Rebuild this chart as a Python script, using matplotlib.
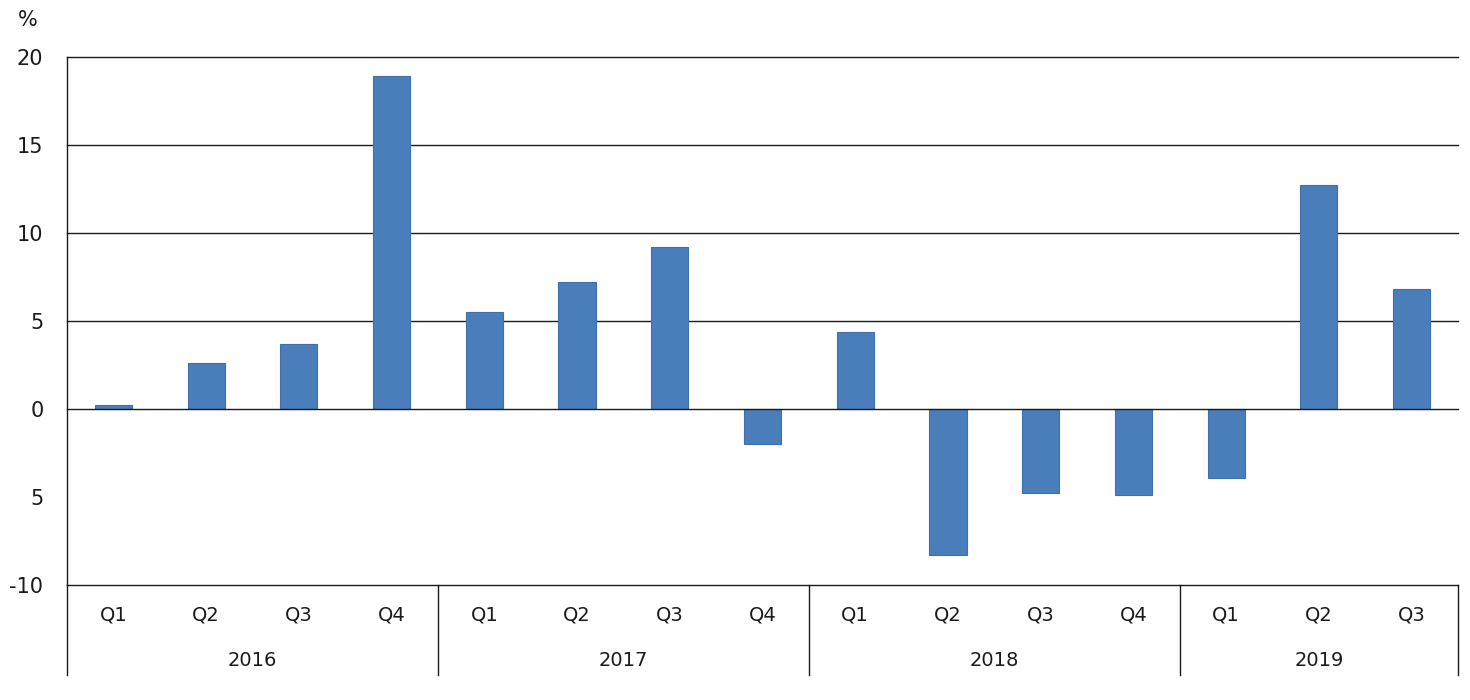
import matplotlib.pyplot as plt
import matplotlib.transforms as mtransforms

# data
years = ["2016", "2017", "2018", "2019"]
quarters_per_year = [4, 4, 4, 3]
quarter_labels = ["Q1", "Q2", "Q3", "Q4", "Q1", "Q2", "Q3", "Q4",
                  "Q1", "Q2", "Q3", "Q4", "Q1", "Q2", "Q3"]
values = [0.2, 2.6, 3.7, 18.9, 5.5, 7.2, 9.2, -2.0,
          4.4, -8.3, -4.8, -4.9, -3.9, 12.7, 6.8]
y_ticks = [-10, -5, 0, 5, 10, 15, 20]
y_tick_labels = ["-10", "5", "0", "5", "10", "15", "20"]

W, H = 1470, 700
fig = plt.figure(figsize=(W / 100, H / 100), dpi=100)
left, right, top, bottom = 67, 1458, 57, 585
ax = fig.add_axes([left / W, 1 - bottom / H, (right - left) / W, (bottom - top) / H])

n = len(values)
xs = [i + 0.5 for i in range(n)]
ax.bar(xs, values, width=0.4, color="#4a7ebb", edgecolor="#3f70aa", linewidth=0.8, zorder=3)

ax.set_xlim(0, n)
ax.set_ylim(-10, 20)

# horizontal lines
for y in [20, 15, 10, 5, 0, -10]:
    ax.axhline(y, color="#1a1a1a", lw=1.0, zorder=2 if y != 0 else 4, clip_on=False)

for s in ["top", "right", "bottom"]:
    ax.spines[s].set_visible(False)
ax.spines["left"].set_color("#1a1a1a")
ax.spines["left"].set_linewidth(1.0)

ax.set_yticks(y_ticks)
ax.set_yticklabels(y_tick_labels, fontsize=15, color="#1a1a1a")
ax.tick_params(axis="y", length=0, pad=17)
ax.set_xticks([])

# % label above the axis
fig.text(28 / W, 1 - 20 / H, "%", fontsize=15, ha="center", va="center", color="#1a1a1a")

# category axis below the plot
trans = mtransforms.blended_transform_factory(ax.transData, ax.transAxes)
box_bottom = -(675 - bottom) / (bottom - top)
q_y = -(615 - bottom) / (bottom - top)
yr_y = -(660 - bottom) / (bottom - top)

for x, q in zip(xs, quarter_labels):
    ax.text(x, q_y, q, transform=trans, ha="center", va="center", fontsize=14, color="#1a1a1a")

start = 0
bounds = [0]
for yr, cnt in zip(years, quarters_per_year):
    ax.text(start + cnt / 2, yr_y, yr, transform=trans, ha="center", va="center",
            fontsize=14, color="#1a1a1a")
    start += cnt
    bounds.append(start)

for b in bounds:
    ax.plot([b, b], [0, box_bottom], transform=trans, color="#1a1a1a", lw=1.0, clip_on=False)

fig.savefig("out.png", dpi=100)
